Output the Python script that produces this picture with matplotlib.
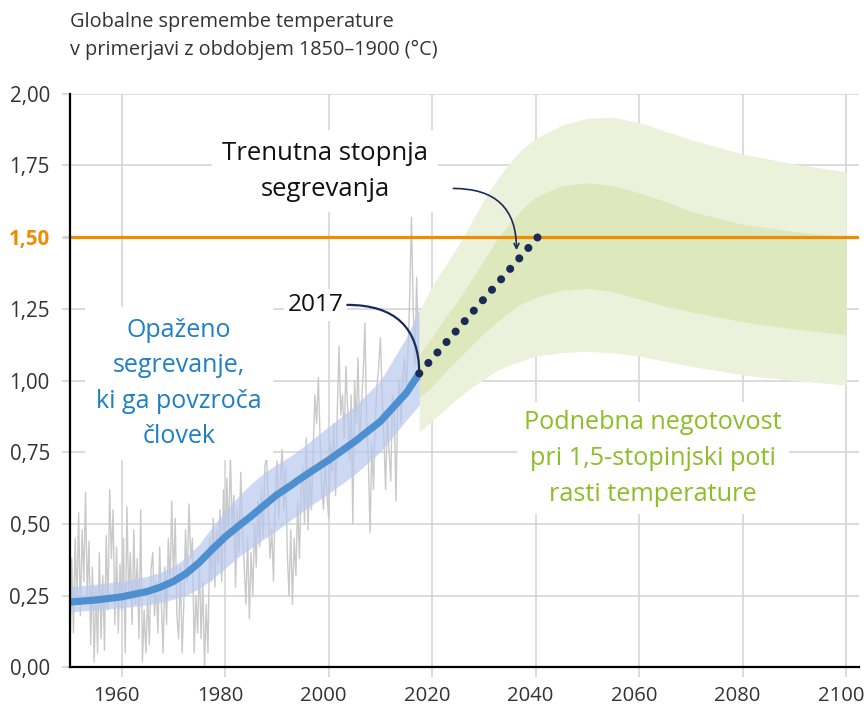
import numpy as np
import matplotlib
matplotlib.use("Agg")
import matplotlib.pyplot as plt
from matplotlib.transforms import ScaledTranslation

plt.rcParams['font.family'] = ['Open Sans', 'DejaVu Sans']

# Barve
modra_besedilo = '#1f7fc4'
modra_crta = '#4d8fd1'
modra_pas = '#b8c9ee'
zelena_zunaj = '#ebf1da'
zelena_znotraj = '#dde9bd'
zelena_besedilo = '#8cbf26'
oranzna = '#f08c00'
temno_modra = '#1b2b58'
siva_mreza = '#d6d6d6'
siva_besedilo = '#333333'

# Osi
x_oznake = [1960, 1980, 2000, 2020, 2040, 2060, 2080, 2100]
y_vrednosti = [0, 0.25, 0.5, 0.75, 1.0, 1.25, 1.5, 1.75, 2.0]
y_oznake = ['0,00', '0,25', '0,50', '0,75', '1,00', '1,25', '1,50', '1,75', '2,00']

# Opazovane (mesecne) temperature, odcitano priblizno - tri vrednosti na leto
opazovano = [
    0.05, 0.38, 0.12,  0.45, 0.22, 0.54,  0.18, 0.48, 0.30,  0.61, 0.25, 0.44,  0.08, 0.35, 0.02,   # 1950-54
    0.28, 0.05, 0.40,  0.10, 0.32, 0.06,  0.46, 0.20, 0.62,  0.38, 0.55, 0.15,  0.42, 0.12, 0.36,   # 1955-59
    0.20, 0.45, 0.05,  0.56, 0.25, 0.40,  0.15, 0.48, 0.22,  0.38, 0.10, 0.55,  0.02, 0.20, 0.05,   # 1960-64
    0.25, 0.08, 0.34,  0.40, 0.18, 0.30,  0.12, 0.42, 0.22,  0.05, 0.35, 0.15,  0.45, 0.28, 0.58,   # 1965-69
    0.30, 0.52, 0.18,  0.10, 0.35, 0.05,  0.22, 0.48, 0.30,  0.57, 0.38, 0.45,  0.05, 0.25, 0.12,   # 1970-74
    0.38, 0.10, 0.30,  0.00, 0.22, 0.05,  0.45, 0.30, 0.52,  0.28, 0.48, 0.36,  0.55, 0.30, 0.62,   # 1975-79
    0.40, 0.66, 0.45,  0.74, 0.50, 0.60,  0.28, 0.55, 0.40,  0.68, 0.48, 0.36,  0.22, 0.45, 0.17,   # 1980-84
    0.40, 0.25, 0.50,  0.35, 0.58, 0.42,  0.62, 0.45, 0.70,  0.74, 0.55, 0.38,  0.48, 0.30, 0.60,   # 1985-89
    0.72, 0.52, 0.66,  0.76, 0.55, 0.70,  0.40, 0.25, 0.48,  0.22, 0.45, 0.32,  0.58, 0.38, 0.62,   # 1990-94
    0.70, 0.50, 0.80,  0.48, 0.68, 0.55,  0.75, 0.95, 0.85,  1.01, 0.80, 0.62,  0.55, 0.72, 0.60,   # 1995-99
    0.52, 0.78, 0.68,  0.85, 0.60, 0.90,  1.12, 0.88, 0.95,  0.80, 1.05, 0.90,  0.72, 0.95, 0.50,   # 2000-04
    1.00, 0.85, 1.08,  0.78, 0.92, 1.02,  1.20, 0.85, 0.72,  0.47, 0.78, 0.62,  0.85, 0.98, 1.05,   # 2005-09
    1.15, 0.95, 0.80,  0.62, 0.88, 0.75,  0.65, 0.95, 0.90,  0.58, 0.92, 1.00,  0.85, 1.02, 1.08,   # 2010-14
    0.98, 1.10, 1.30,  1.57, 1.25, 1.05,  1.36, 1.10, 1.00,                                          # 2015-17
]
leta_opazovano = 1950 + np.arange(len(opazovano)) / 3

# Segrevanje, ki ga povzroca clovek (sredina in razpon)
leta_clovek = [1950, 1955, 1960, 1965, 1967.5, 1970, 1972.5, 1975, 1977.5, 1980, 1982.5,
               1985, 1987.5, 1990, 1992.5, 1995, 2000, 2005, 2010, 2015, 2017.5]
clovek_sredina = [0.228, 0.235, 0.246, 0.265, 0.280, 0.300, 0.328, 0.366, 0.412, 0.455, 0.492,
                  0.527, 0.565, 0.602, 0.632, 0.664, 0.723, 0.787, 0.858, 0.957, 1.025]
clovek_zgoraj = [0.281, 0.290, 0.300, 0.318, 0.332, 0.352, 0.385, 0.430, 0.490, 0.545, 0.595,
                 0.640, 0.678, 0.708, 0.735, 0.768, 0.840, 0.910, 1.000, 1.150, 1.250]
clovek_spodaj = [0.194, 0.200, 0.208, 0.218, 0.226, 0.238, 0.252, 0.275, 0.308, 0.345, 0.385,
                 0.416, 0.448, 0.478, 0.512, 0.545, 0.607, 0.672, 0.752, 0.862, 0.915]

# Negotovost pri 1,5-stopinjski poti
leta_pot = [2017.5, 2020, 2022.5, 2025, 2027.5, 2030, 2032.5, 2035, 2037.5, 2040,
            2045, 2050, 2055, 2060, 2065, 2070, 2080, 2090, 2100]
zunaj_zgoraj = [1.24, 1.33, 1.40, 1.47, 1.55, 1.63, 1.70, 1.76, 1.81, 1.845,
                1.89, 1.915, 1.918, 1.90, 1.87, 1.84, 1.79, 1.755, 1.728]
znotraj_zgoraj = [1.09, 1.15, 1.22, 1.28, 1.35, 1.42, 1.49, 1.55, 1.60, 1.64,
                  1.68, 1.69, 1.68, 1.655, 1.625, 1.59, 1.545, 1.52, 1.50]
znotraj_spodaj = [0.94, 0.98, 1.03, 1.075, 1.12, 1.165, 1.205, 1.24, 1.27, 1.29,
                  1.315, 1.322, 1.31, 1.285, 1.26, 1.24, 1.205, 1.18, 1.16]
zunaj_spodaj = [0.82, 0.86, 0.90, 0.94, 0.975, 1.005, 1.035, 1.055, 1.07, 1.085,
                1.098, 1.102, 1.097, 1.085, 1.068, 1.05, 1.02, 1.00, 0.985]

# Trenutna stopnja segrevanja (2017 -> 1,5 °C)
leta_trend = [2017.5, 2040.4]
trend = [1.025, 1.50]
meja = 1.5

fig = plt.figure(figsize=(8.67, 7.07), dpi=100)
ax = fig.add_axes([70 / 867, 39.6 / 707, 789 / 867, 573.6 / 707])

ax.fill_between(leta_pot, zunaj_spodaj, zunaj_zgoraj, color=zelena_zunaj, lw=0, zorder=1)
ax.fill_between(leta_pot, znotraj_spodaj, znotraj_zgoraj, color=zelena_znotraj, lw=0, zorder=1.1)

ax.plot(leta_opazovano, opazovano, color='#c9c9c9', lw=1.0, zorder=2)
ax.fill_between(leta_clovek, clovek_spodaj, clovek_zgoraj, color=modra_pas, alpha=0.7, lw=0, zorder=3)
ax.plot(leta_clovek, clovek_sredina, color=modra_crta, lw=5.2, solid_capstyle='butt', zorder=3.5)

ax.axhline(meja, color=oranzna, lw=2.3, zorder=4)

ax.plot(leta_trend, trend, color=temno_modra, lw=5.8, linestyle=(0, (0.01, 1.71)),
        dash_capstyle='round', zorder=7)

# Mreza
ax.set_xlim(1950, 2102.5)
ax.set_ylim(0, 2.0)
ax.set_xticks(x_oznake)
ax.set_xticklabels([str(l) for l in x_oznake])
ax.set_yticks(y_vrednosti)
ax.set_yticklabels(y_oznake)
ax.set_axisbelow(True)
ax.grid(True, color=siva_mreza, lw=1.2)
ax.xaxis.get_gridlines()[1].set_visible(False)
ax.axvline(1980, ymax=0.375, color=siva_mreza, lw=1.2, zorder=0.5)

ax.tick_params(axis='y', length=6, width=1.2, color=siva_mreza, pad=8.5,
               labelsize=14.8, labelcolor=siva_besedilo)
ax.tick_params(axis='x', length=7, width=1.2, color=siva_mreza, pad=6.5,
               labelsize=14.6, labelcolor=siva_besedilo)
# oznake let so v izvirniku malce zamaknjene v levo
premik = ScaledTranslation(-5 / 100, 0, fig.dpi_scale_trans)
for lab in ax.get_xticklabels():
    lab.set_transform(lab.get_transform() + premik)

lbl = ax.get_yticklabels()[6]
lbl.set_color(oranzna)
lbl.set_fontweight('bold')
tick = ax.yaxis.get_major_ticks()[6]
tick.tick1line.set_color(oranzna)
tick.tick1line.set_markeredgewidth(2.3)

for s in ['top', 'right']:
    ax.spines[s].set_visible(False)
for s in ['left', 'bottom']:
    ax.spines[s].set_linewidth(1.6)
    ax.spines[s].set_color('black')
    ax.spines[s].set_zorder(8)

# Besedila
ax.text(1971.1, 0.99, "Opaženo\nsegrevanje,\nki ga povzroča\nčlovek", ha='center', va='center',
        fontsize=18, color=modra_besedilo, linespacing=1.55, zorder=5,
        bbox=dict(boxstyle='square,pad=0.45', fc='white', ec='none'))
ax.text(1999.3, 1.73, "Trenutna stopnja\nsegrevanja", ha='center', va='center',
        fontsize=18.5, color='#111111', linespacing=1.6, zorder=5,
        bbox=dict(boxstyle='square,pad=0.4', fc='white', ec='none'))
ax.text(1997.4, 1.264, "2017", ha='center', va='center', fontsize=17.6, color='#111111', zorder=5,
        bbox=dict(boxstyle='square,pad=0.15', fc='white', ec='none'))
ax.text(2062.7, 0.73, "Podnebna negotovost\npri 1,5-stopinjski poti\nrasti temperature",
        ha='center', va='center', fontsize=18.2, color=zelena_besedilo, linespacing=1.58, zorder=5,
        bbox=dict(boxstyle='square,pad=0.3', fc='white', ec='none'))

ax.annotate('', xy=(2017.5, 1.025), xytext=(2003.6, 1.264),
            arrowprops=dict(arrowstyle='-', color=temno_modra, lw=1.6, shrinkA=0, shrinkB=0,
                            connectionstyle='angle3,angleA=0,angleB=90'), zorder=6)
ax.annotate('', xy=(2036.3, 1.455), xytext=(2024.1, 1.670),
            arrowprops=dict(arrowstyle='->,head_length=0.35,head_width=0.18', color=temno_modra,
                            lw=1.2, shrinkA=0, shrinkB=0,
                            connectionstyle='angle3,angleA=0,angleB=90'), zorder=6)

fig.text(70 / 867, 1 - 12 / 707, "Globalne spremembe temperature\nv primerjavi z obdobjem 1850–1900 (°C)",
         ha='left', va='top', fontsize=14.3, color=siva_besedilo, linespacing=1.5)

fig.savefig('out.png', dpi=100)
